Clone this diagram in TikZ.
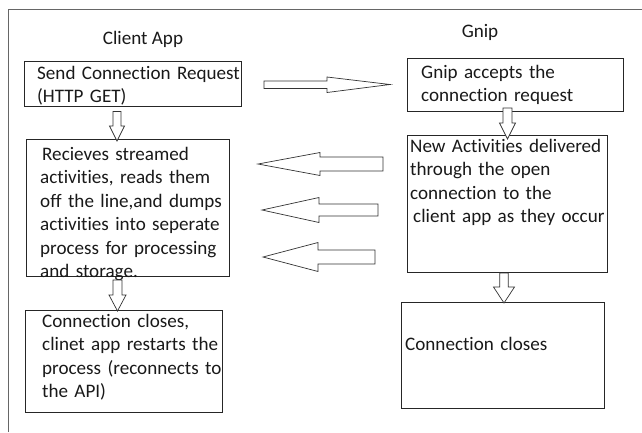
\documentclass[tikz,border=0pt]{standalone}
\usepackage{fontspec}
\setmainfont[Ligatures=NoCommon]{Carlito}
\tikzset{
  box/.style={draw=black!85,line width=0.9pt,inner sep=0pt,outer sep=0pt,anchor=north west},
  txt/.style={inner sep=0pt,anchor=base west,text width=260pt,align=left,
    font=\fontsize{19.1}{23.5}\selectfont,text=black!90},
  title/.style={inner sep=0pt,anchor=base,font=\fontsize{19.1}{23.5}\selectfont,text=black!90},
  hollow/.style={draw=black!80,line width=0.7pt,fill=white,line join=miter}
}
\begin{document}
\begin{tikzpicture}[x=1pt,y=-1pt]
      \useasboundingbox (0,0) rectangle (642,432);
      % frame
      \draw[black!60,line width=1.6pt] (8.5,432) -- (8.5,9.5) -- (642,9.5);

      % titles
      \node[title] (client) at (143,44) {Client App};
      \node[title] (gnip) at (480,37) {Gnip};

      % client app column
      \node[box,minimum width=217pt,minimum height=45pt] (send) at (24,61) {};
      \node[box,minimum width=203pt,minimum height=137pt] (recv) at (26,139) {};
      \node[box,minimum width=197pt,minimum height=102pt] (restart) at (25,310) {};
      \node[txt] (sendtxt) at (37,79) {Send Connection Request\\(HTTP GET)};
      \node[txt] (recvtxt) at (40,160) {\hspace{2pt}Recieves streamed\\activities, reads them\\off the line,and dumps\\activities into seperate\\process for processing\\and storage.};
      \node[txt] (restarttxt) at (42,327) {Connection closes,\\clinet app restarts the\\process (reconnects to\\the API)};

      % gnip column
      \node[box,minimum width=216pt,minimum height=53pt] (accept) at (407,58) {};
      \node[box,minimum width=200pt,minimum height=137pt] (deliver) at (407,135) {};
      \node[box,minimum width=203pt,minimum height=106pt] (close) at (401,302) {};
      \node[txt] (accepttxt) at (421,78) {Gnip accepts the\\connection request};
      \node[txt] (delivertxt) at (410,152) {New Activities delivered\\through the open\\connection to the\\\hspace{3pt}client app as they occur};
      \node[txt] (closetxt) at (405,350) {Connection closes};

      % request arrow
      \draw[hollow] (264,81) -- (327,81) -- (327,77) -- (390,84.5) -- (327,92.5)
        -- (327,88.5) -- (264,88.5) -- cycle;

      % delivery arrows
      \foreach \tip/\y/\base/\hh/\sh/\e in {258/164/320/11.5/7/383,
                                           262/210/319/12.5/6/378,
                                           263/257/318/14.5/7/375}
        \draw[hollow] (\tip,\y) -- (\base,\y-\hh) -- (\base,\y-\sh) -- (\e,\y-\sh)
          -- (\e,\y+\sh) -- (\base,\y+\sh) -- (\base,\y+\hh) -- cycle;

      % step arrows
      \foreach \x/\top/\base/\tipy/\sw/\hw in {117/111.5/126/141/4/7.5,
                                              507.5/108/123/139/4.5/8,
                                              117.5/280/295/311/4.5/8.5,
                                              504/273/287/303/4.2/10.5}
        \draw[hollow] (\x,\tipy) -- (\x-\hw,\base) -- (\x-\sw,\base) -- (\x-\sw,\top)
          -- (\x+\sw,\top) -- (\x+\sw,\base) -- (\x+\hw,\base) -- cycle;
\end{tikzpicture}
\end{document}
